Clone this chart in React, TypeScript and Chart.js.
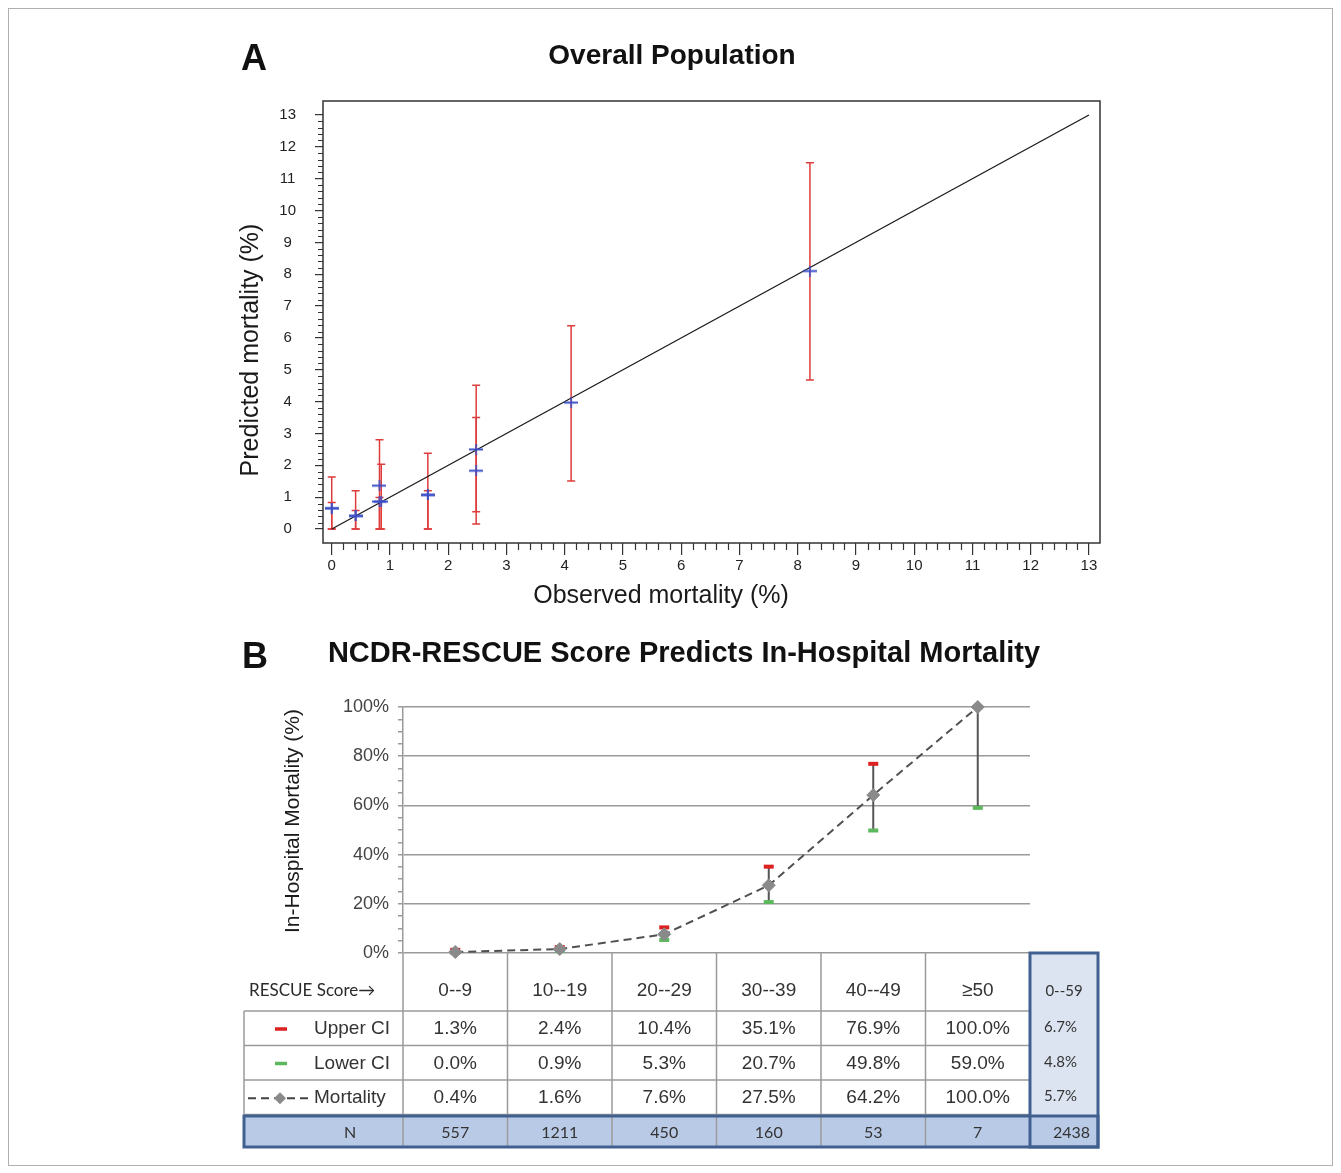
import React, { useEffect, useRef } from 'react';
import { Chart, registerables } from 'chart.js';

Chart.register(...registerables);

const FONT = '"Liberation Sans", Arial, Helvetica, sans-serif';
const FONT_TABLE = 'Lato, "Open Sans", sans-serif';

// ---------------- Panel A data ----------------
const panelALetter = 'A';
const panelATitle = 'Overall Population';
const panelAXTitle = 'Observed mortality (%)';
const panelAYTitle = 'Predicted mortality (%)';
const observedA = [0.0, 0.0, 0.41, 0.41, 0.82, 0.85, 0.82, 1.65, 1.65, 2.48, 2.48, 4.11, 8.21];
const predictedA = [0.65, 0.65, 0.41, 0.41, 1.36, 0.86, 0.86, 1.07, 1.07, 2.5, 1.83, 3.97, 8.1];
const ciLowA = [0, 0, 0, 0, 0, 0, 0, 0, 0, 0.16, 0.54, 1.51, 4.68];
const ciHighA = [1.63, 0.83, 1.2, 0.58, 2.8, 2.03, 0.99, 2.38, 1.2, 4.51, 3.5, 6.38, 11.5];
const refLineX = [0, 13];
const refLineY = [0, 13];
const axisTicksA = [0, 1, 2, 3, 4, 5, 6, 7, 8, 9, 10, 11, 12, 13];

// ---------------- Panel B data ----------------
const panelBLetter = 'B';
const panelBTitle = 'NCDR-RESCUE Score Predicts In-Hospital Mortality';
const panelBYTitle = 'In-Hospital Mortality (%)';
const scoreHeader = 'RESCUE Score\u2192';
const scoreCategories = ['0--9', '10--19', '20--29', '30--39', '40--49', '\u226550'];
const upperCI = [1.3, 2.4, 10.4, 35.1, 76.9, 100.0];
const lowerCI = [0.0, 0.9, 5.3, 20.7, 49.8, 59.0];
const mortality = [0.4, 1.6, 7.6, 27.5, 64.2, 100.0];
const nPatients = [557, 1211, 450, 160, 53, 7];
const overallLabel = '0--59';
const overallUpper = 6.7;
const overallLower = 4.8;
const overallMortality = 5.7;
const overallN = 2438;
const rowLabels = ['Upper CI', 'Lower CI', 'Mortality'];
const yTicksB = [0, 20, 40, 60, 80, 100];

const RED_A = 'rgb(222,60,60)';
const BLUE_A = 'rgb(60,80,200)';
const RED_B = '#dd2020';
const GREEN_B = '#5cb85c';

function makeCross(): HTMLCanvasElement {
  const c = document.createElement('canvas');
  c.width = 14;
  c.height = 11;
  const g = c.getContext('2d')!;
  g.strokeStyle = BLUE_A;
  g.lineWidth = 2;
  g.beginPath();
  g.moveTo(0, 5.5);
  g.lineTo(14, 5.5);
  g.stroke();
  g.lineWidth = 1.5;
  g.beginPath();
  g.moveTo(7, 0);
  g.lineTo(7, 11);
  g.stroke();
  return c;
}

const errorBarsA = {
  id: 'errorBarsA',
  beforeDatasetsDraw(chart: any) {
    const { ctx, scales } = chart;
    const xs = scales.x, ys = scales.y;
    ctx.save();
    ctx.strokeStyle = RED_A;
    ctx.lineWidth = 1.5;
    for (let i = 0; i < observedA.length; i++) {
      const px = xs.getPixelForValue(observedA[i]);
      const lo = ys.getPixelForValue(ciLowA[i]);
      const hi = ys.getPixelForValue(ciHighA[i]);
      ctx.beginPath();
      ctx.moveTo(px, lo);
      ctx.lineTo(px, hi);
      ctx.moveTo(px - 4, lo);
      ctx.lineTo(px + 4, lo);
      ctx.moveTo(px - 4, hi);
      ctx.lineTo(px + 4, hi);
      ctx.stroke();
    }
    ctx.restore();
  },
};

const frameA = {
  id: 'frameA',
  afterDraw(chart: any) {
    const { ctx, chartArea: a, scales } = chart;
    const xs = scales.x, ys = scales.y;
    ctx.save();
    ctx.strokeStyle = '#333';
    ctx.lineWidth = 1.5;
    ctx.strokeRect(a.left, a.top, a.right - a.left, a.bottom - a.top);
    // minor ticks
    ctx.lineWidth = 1.2;
    ctx.beginPath();
    for (let k = 0; k <= 65; k++) {
      if (k % 5 === 0) continue;
      const v = k / 5;
      const px = Math.round(xs.getPixelForValue(v)) + 0.5;
      ctx.moveTo(px, a.bottom);
      ctx.lineTo(px, a.bottom + 7);
      const py = Math.round(ys.getPixelForValue(v)) + 0.5;
      ctx.moveTo(a.left, py);
      ctx.lineTo(a.left - 5, py);
    }
    ctx.stroke();
    // texts
    ctx.fillStyle = '#111';
    ctx.font = `bold 36px ${FONT}`;
    ctx.textAlign = 'left';
    ctx.textBaseline = 'alphabetic';
    ctx.fillText(panelALetter, a.left - 82, 50);
    ctx.font = `bold 28px ${FONT}`;
    ctx.textAlign = 'center';
    ctx.textBaseline = 'middle';
    ctx.fillText(panelATitle, a.left + 349, 36);
    ctx.font = `25px ${FONT}`;
    ctx.fillStyle = '#1a1a1a';
    ctx.fillText(panelAXTitle, a.left + 338, a.bottom + 53);
    ctx.translate(a.left - 72, a.top + 249);
    ctx.rotate(-Math.PI / 2);
    ctx.fillText(panelAYTitle, 0, 0);
    ctx.restore();
  },
};

const errorBarsB = {
  id: 'errorBarsB',
  beforeDatasetsDraw(chart: any) {
    const { ctx, scales } = chart;
    const xs = scales.x, ys = scales.y;
    ctx.save();
    for (let i = 0; i < scoreCategories.length; i++) {
      const px = xs.getPixelForValue(i);
      const hi = ys.getPixelForValue(upperCI[i]);
      const lo = ys.getPixelForValue(lowerCI[i]);
      ctx.strokeStyle = '#555';
      ctx.lineWidth = 2;
      ctx.beginPath();
      ctx.moveTo(px, lo);
      ctx.lineTo(px, hi);
      ctx.stroke();
      ctx.fillStyle = RED_B;
      ctx.fillRect(px - 5, hi - 2, 10, 4);
      ctx.fillStyle = GREEN_B;
      ctx.fillRect(px - 5, lo - 2, 10, 4);
    }
    ctx.restore();
  },
};

const tableB = {
  id: 'tableB',
  afterDraw(chart: any) {
    const { ctx, chartArea: a, scales } = chart;
    const xs = scales.x;
    const half = (xs.getPixelForValue(1) - xs.getPixelForValue(0)) / 2;
    const tableLeft = a.left - 159;
    const sumL = a.right;
    const sumR = a.right + 68;
    const y0 = a.bottom;
    const rowTops = [y0 + 58, y0 + 92.5, y0 + 127, y0 + 161.5];
    const nTop = y0 + 163;
    const nBot = y0 + 194;
    ctx.save();
    // fills
    ctx.fillStyle = '#dce4f2';
    ctx.fillRect(sumL, y0, sumR - sumL, nBot - y0);
    ctx.fillStyle = '#b9cae6';
    ctx.fillRect(tableLeft, nTop, sumR - tableLeft, nBot - nTop);
    // gray grid
    ctx.strokeStyle = '#9a9a9a';
    ctx.lineWidth = 1.5;
    ctx.beginPath();
    for (const ry of rowTops) {
      ctx.moveTo(tableLeft, ry);
      ctx.lineTo(sumL, ry);
    }
    ctx.moveTo(tableLeft, rowTops[0]);
    ctx.lineTo(tableLeft, rowTops[3]);
    for (let i = 0; i < scoreCategories.length; i++) {
      const lx = xs.getPixelForValue(i) - half;
      ctx.moveTo(lx, y0);
      ctx.lineTo(lx, nBot);
    }
    ctx.stroke();
    // dark blue borders
    ctx.strokeStyle = '#41608f';
    ctx.lineWidth = 3;
    ctx.strokeRect(sumL, y0, sumR - sumL, nBot - y0);
    ctx.strokeRect(tableLeft, nTop, sumR - tableLeft, nBot - nTop);

    // header row
    const headMid = y0 + 38;
    ctx.fillStyle = '#2a2a2a';
    ctx.textBaseline = 'middle';
    ctx.textAlign = 'left';
    ctx.font = `17px ${FONT_TABLE}`;
    ctx.fillText(scoreHeader, tableLeft + 5, headMid);
    ctx.textAlign = 'center';
    ctx.font = `19px ${FONT}`;
    ctx.fillStyle = '#333';
    scoreCategories.forEach((c, i) => ctx.fillText(c, xs.getPixelForValue(i), headMid));
    ctx.font = `15px ${FONT_TABLE}`;
    ctx.fillText(overallLabel, sumL + 34, headMid);

    // data rows
    const rows = [upperCI, lowerCI, mortality];
    const overall = [overallUpper, overallLower, overallMortality];
    for (let r = 0; r < 3; r++) {
      const top = rowTops[r];
      const bottom = rowTops[r + 1];
      const mid = (top + bottom) / 2 + 1;
      ctx.font = `19px ${FONT}`;
      ctx.fillStyle = '#333';
      ctx.textAlign = 'center';
      rows[r].forEach((v, i) => ctx.fillText(`${v.toFixed(1)}%`, xs.getPixelForValue(i), mid));
      ctx.textAlign = 'left';
      ctx.fillText(rowLabels[r], tableLeft + 70, mid);
      ctx.font = `15px ${FONT_TABLE}`;
      ctx.fillText(`${overall[r].toFixed(1)}%`, sumL + 14, mid - 2);
      // legend symbols
      if (r === 0) {
        ctx.fillStyle = RED_B;
        ctx.fillRect(tableLeft + 31, mid - 2, 12, 3.5);
      } else if (r === 1) {
        ctx.fillStyle = GREEN_B;
        ctx.fillRect(tableLeft + 31, mid - 2, 12, 3.5);
      } else {
        ctx.save();
        ctx.strokeStyle = '#444';
        ctx.lineWidth = 2;
        ctx.setLineDash([8, 5]);
        ctx.beginPath();
        ctx.moveTo(tableLeft + 4, mid);
        ctx.lineTo(tableLeft + 66, mid);
        ctx.stroke();
        ctx.setLineDash([]);
        ctx.fillStyle = '#8a8a8a';
        const cx = tableLeft + 36;
        ctx.beginPath();
        ctx.moveTo(cx, mid - 6);
        ctx.lineTo(cx + 6, mid);
        ctx.lineTo(cx, mid + 6);
        ctx.lineTo(cx - 6, mid);
        ctx.closePath();
        ctx.fill();
        ctx.restore();
      }
    }

    // N row
    const nMid = (nTop + nBot) / 2 + 1;
    ctx.font = `16px ${FONT_TABLE}`;
    ctx.fillStyle = '#333';
    ctx.textAlign = 'center';
    ctx.fillText('N', tableLeft + 106, nMid);
    nPatients.forEach((n, i) => ctx.fillText(String(n), xs.getPixelForValue(i), nMid));
    ctx.textAlign = 'right';
    ctx.fillText(String(overallN), sumR - 8, nMid);

    // titles
    ctx.fillStyle = '#111';
    ctx.font = `bold 36px ${FONT}`;
    ctx.textAlign = 'left';
    ctx.textBaseline = 'alphabetic';
    ctx.fillText(panelBLetter, a.left - 161, 48);
    ctx.font = `bold 29px ${FONT}`;
    ctx.textAlign = 'center';
    ctx.textBaseline = 'middle';
    ctx.fillText(panelBTitle, a.left + 281, 34);
    ctx.font = `21px ${FONT}`;
    ctx.fillStyle = '#1a1a1a';
    ctx.translate(a.left - 110, a.top + 114);
    ctx.rotate(-Math.PI / 2);
    ctx.fillText(panelBYTitle, 0, 0);
    ctx.restore();
  },
};

export default function App() {
  const refA = useRef<HTMLCanvasElement | null>(null);
  const refB = useRef<HTMLCanvasElement | null>(null);

  useEffect(() => {
    const cross = makeCross();
    const chartA = new Chart(refA.current!, {
      type: 'scatter',
      data: {
        datasets: [
          {
            type: 'line',
            label: 'Identity',
            data: refLineX.map((x, i) => ({ x, y: refLineY[i] })),
            borderColor: '#1a1a1a',
            borderWidth: 1.3,
            pointRadius: 0,
            order: 2,
          } as any,
          {
            type: 'scatter',
            label: 'Predicted',
            data: observedA.map((x, i) => ({ x, y: predictedA[i] })),
            pointStyle: cross as any,
            pointRadius: 6,
            order: 1,
            clip: false,
          } as any,
        ],
      },
      options: {
        responsive: false,
        animation: false,
        layout: { padding: { left: 0, top: 81, right: 24, bottom: 0 } },
        plugins: { legend: { display: false }, tooltip: { enabled: false }, title: { display: false } },
        scales: {
          x: {
            type: 'linear',
            min: -0.15,
            max: 13.19,
            afterBuildTicks: (s: any) => { s.ticks = axisTicksA.map((v) => ({ value: v })); },
            afterFit: (s: any) => { s.height = 77; },
            grid: { display: true, drawOnChartArea: false, tickLength: 12, color: '#333', lineWidth: 1.2 },
            border: { display: false },
            ticks: { padding: 2, autoSkip: false, maxRotation: 0, color: '#222', font: { family: FONT, size: 15 } },
          },
          y: {
            type: 'linear',
            min: -0.44,
            max: 13.44,
            afterBuildTicks: (s: any) => { s.ticks = axisTicksA.map((v) => ({ value: v })); },
            afterFit: (s: any) => { s.width = 103; },
            grid: { display: true, drawOnChartArea: false, tickLength: 8, color: '#333', lineWidth: 1.2 },
            border: { display: false },
            ticks: { padding: 19, crossAlign: 'center', autoSkip: false, color: '#222', font: { family: FONT, size: 15 } },
          },
        },
      } as any,
      plugins: [errorBarsA, frameA],
    });

    const chartB = new Chart(refB.current!, {
      type: 'line',
      data: {
        labels: scoreCategories,
        datasets: [
          {
            label: 'Mortality',
            data: mortality,
            borderColor: '#505050',
            borderWidth: 2,
            borderDash: [8, 5],
            pointStyle: 'rectRot',
            pointRadius: 6.5,
            pointBackgroundColor: '#8a8a8a',
            pointBorderColor: '#8a8a8a',
            pointBorderWidth: 1,
            tension: 0,
            fill: false,
            clip: false,
          } as any,
        ],
      },
      options: {
        responsive: false,
        animation: false,
        layout: { padding: { left: 0, top: 87, right: 90, bottom: 207 } },
        plugins: { legend: { display: false }, tooltip: { enabled: false }, title: { display: false } },
        scales: {
          x: { type: 'category', display: false, offset: true },
          y: {
            min: 0,
            max: 100,
            afterBuildTicks: (s: any) => {
              const t: any[] = [];
              for (let v = 0; v <= 100; v += 5) t.push({ value: v });
              s.ticks = t;
            },
            afterFit: (s: any) => { s.width = 183; },
            ticks: {
              autoSkip: false,
              padding: 9,
              color: '#444',
              font: { family: FONT, size: 18 },
              callback: (v: any) => (yTicksB.includes(Number(v)) ? `${v}%` : ''),
            },
            grid: {
              color: (c: any) => (yTicksB.includes(c.tick.value) ? '#9a9a9a' : 'rgba(0,0,0,0)'),
              tickColor: '#9a9a9a',
              lineWidth: 1.5,
              tickLength: 5,
            },
            border: { display: true, color: '#9a9a9a', width: 1.5 },
          },
        },
      } as any,
      plugins: [errorBarsB, tableB],
    });

    return () => {
      chartA.destroy();
      chartB.destroy();
    };
  }, []);

  return (
    <div
      style={{
        position: 'relative',
        width: 1325,
        height: 1158,
        border: '1px solid #b0b0b0',
        boxSizing: 'border-box',
        background: '#fff',
      }}
    >
      <canvas ref={refA} width={904} height={600} style={{ position: 'absolute', left: 211, top: 11 }} />
      <canvas ref={refB} width={900} height={540} style={{ position: 'absolute', left: 211, top: 611 }} />
    </div>
  );
}
